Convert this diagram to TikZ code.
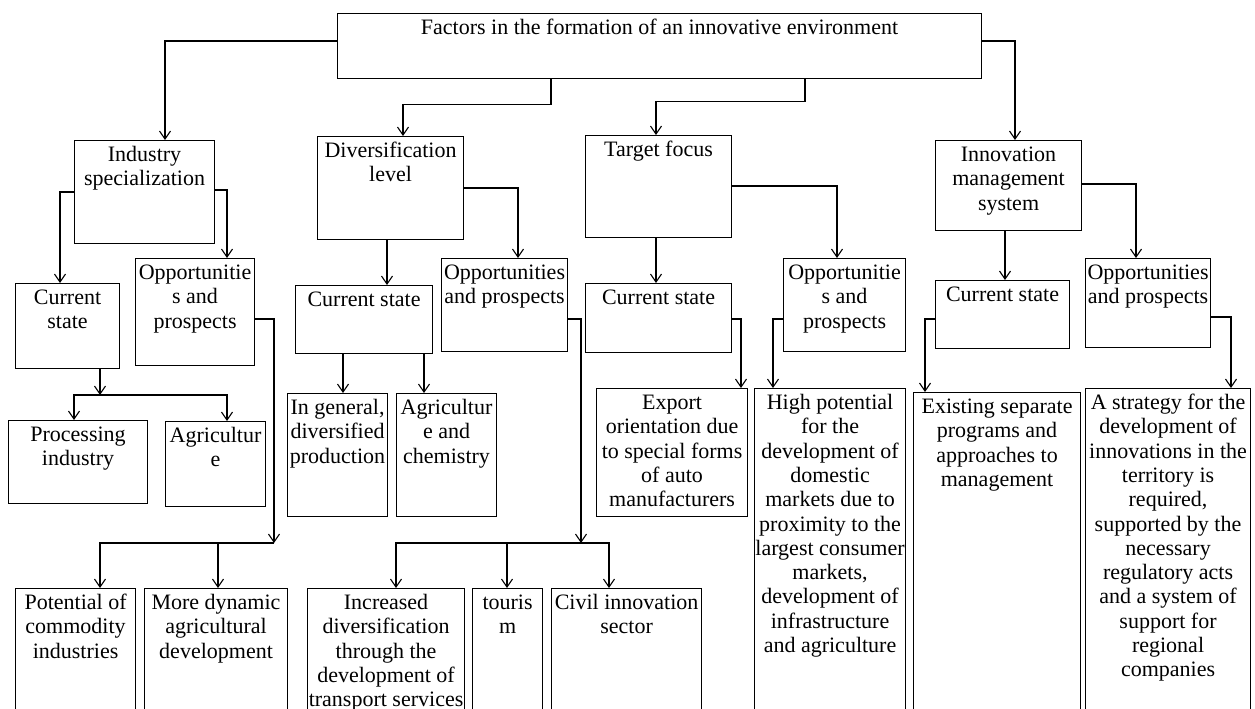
\documentclass[tikz,border=0pt]{standalone}
\usepackage{fontspec}
\setmainfont{Liberation Serif}
\usetikzlibrary{arrows.meta}

% box with its text set at the top: name, x, y (top left), width, height, text
\newcommand\stagebox[6]{\node[box] (#1) at (#2,#3) {\parbox[c][#5pt][t]{#4pt}{\centering\vspace{4pt}\strut #6}};}

\begin{document}
\begin{tikzpicture}[x=1pt, y=-1pt,
  box/.style={draw, line width=1.1pt, inner sep=0pt, anchor=north west, font=\fontsize{22}{24.3}\selectfont},
  arr/.style={line width=1.1pt, -{Straight Barb[length=8pt,width=11pt]}}]
\clip (0,0) rectangle (1255,709);
% top level
\stagebox{top}{337}{13}{644}{65}{Factors in the formation of an innovative environment}
\stagebox{ind}{74}{140}{140}{103}{Industry\\specialization}
\stagebox{div}{317}{136}{146}{103}{Diversification\\level}
\stagebox{tgt}{585}{135}{146}{102}{Target focus}
\stagebox{inn}{935}{140}{146}{90}{Innovation\\management\\system}
% current state / opportunities
\stagebox{indcur}{15}{283}{104}{85}{Current\\state}
\stagebox{indopp}{135}{258}{119}{107}{Opportunitie\\s and\\prospects}
\stagebox{divcur}{295}{285}{137}{68}{Current state}
\stagebox{divopp}{441}{258}{126}{93}{Opportunities\\and prospects}
\stagebox{tgtcur}{585}{283}{146}{69}{Current state}
\stagebox{tgtopp}{783}{258}{122}{93}{Opportunitie\\s and\\prospects}
\stagebox{inncur}{935}{280}{134}{68}{Current state}
\stagebox{innopp}{1085}{258}{125}{89}{Opportunities\\and prospects}
% details
\stagebox{proc}{8}{420}{139}{83}{Processing\\industry}
\stagebox{agri}{165}{421}{100}{85}{Agricultur\\e}
\stagebox{gen}{287}{393}{100}{123}{In general,\\diversified\\production}
\stagebox{agch}{396}{393}{100}{123}{Agricultur\\e and\\chemistry}
\stagebox{exp}{596}{388}{151}{128}{Export\\orientation due\\to special forms\\of auto\\manufacturers}
\stagebox{high}{754}{388}{151}{340}{High potential\\for the\\development of\\domestic\\markets due to\\proximity to the\\largest consumer\\markets,\\development of\\infrastructure\\and agriculture}
\stagebox{exist}{913}{392}{167}{340}{Existing separate\\programs and\\approaches to\\management}
\stagebox{strat}{1085}{388}{165}{340}{A strategy for the\\development of\\innovations in the\\territory is\\required,\\supported by the\\necessary\\regulatory acts\\and a system of\\support for\\regional\\companies}
\stagebox{pot}{15}{588}{120}{140}{Potential of\\commodity\\industries}
\stagebox{dyn}{144}{588}{143}{140}{More dynamic\\agricultural\\development}
\stagebox{incr}{307}{588}{157}{140}{Increased\\diversification\\through the\\development of\\transport services}
\stagebox{tour}{472}{588}{70}{140}{touris\\m}
\stagebox{civ}{551}{588}{150}{140}{Civil innovation\\sector}
% connectors
\draw[arr] (top.west |- 0,41) -| (ind.north -| 165,0);
\draw[arr] (top.south -| 551,0) -- ++(0,25) -| (div.north -| 403,0);
\draw[arr] (top.south -| 805,0) -- ++(0,22) -| (tgt.north -| 656,0);
\draw[arr] (top.east |- 0,41) -| (inn.north -| 1015,0);
\draw[arr] (ind.west |- 0,192) -| (indcur.north -| 60,0);
\draw[arr] (ind.east |- 0,190) -| (indopp.north -| 227,0);
\draw[arr] (div.south -| 387,0) -- (divcur.north -| 387,0);
\draw[arr] (div.east |- 0,188) -| (divopp.north -| 518,0);
\draw[arr] (tgt.south -| 656,0) -- (tgtcur.north -| 656,0);
\draw[arr] (tgt.east |- 0,186) -| (tgtopp.north -| 837,0);
\draw[arr] (inn.south -| 1005,0) -- (inncur.north -| 1005,0);
\draw[arr] (inn.east |- 0,184) -| (innopp.north -| 1136,0);
\coordinate (j1) at (100,395);
\draw[arr] (indcur.south -| j1) -- (j1);
\draw[arr] (j1) -| (proc.north -| 74,0);
\draw[arr] (j1) -| (agri.north -| 227,0);
\draw[arr] (divcur.south -| 343,0) -- (gen.north -| 343,0);
\draw[arr] (divcur.south -| 424,0) -- (agch.north -| 424,0);
\draw[arr] (tgtcur.east |- 0,319) -| (exp.north -| 741,0);
\draw[arr] (tgtopp.west |- 0,319) -| (high.north -| 773,0);
\draw[arr] (inncur.west |- 0,319) -| (exist.north -| 925,0);
\draw[arr] (innopp.east |- 0,317) -| (strat.north -| 1231,0);
\coordinate (j2) at (274,543);
\draw[arr] (indopp.east |- 0,319) -| (j2);
\draw[arr] (j2) -| (pot.north -| 100,0);
\draw[arr] (j2 -| 218,0) -- (dyn.north -| 218,0);
\coordinate (j3) at (581,543);
\draw[arr] (divopp.east |- 0,319) -| (j3);
\draw[arr] (j3) -| (incr.north -| 396,0);
\draw[arr] (j3) -| (civ.north -| 609,0);
\draw[arr] (j3 -| 507,0) -- (tour.north -| 507,0);
\end{tikzpicture}
\end{document}
